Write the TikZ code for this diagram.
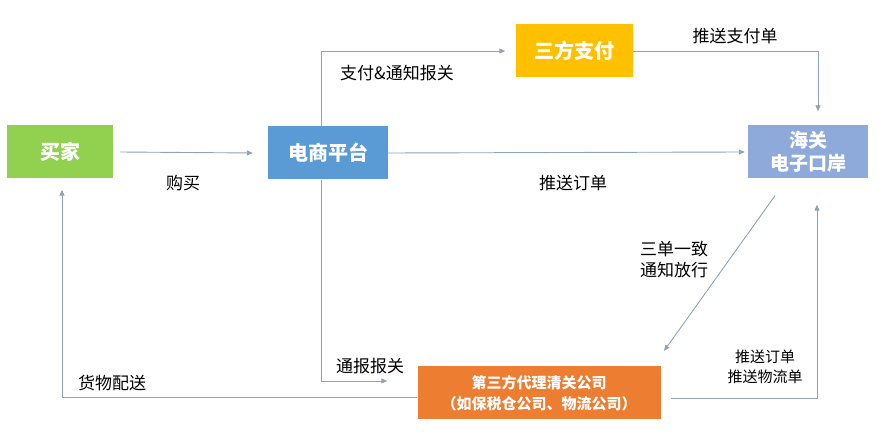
\documentclass[tikz,border=0pt]{standalone}
\usepackage{fontspec}
\newfontfamily\cjk{Noto Sans CJK SC}
\usetikzlibrary{arrows.meta,positioning}
\definecolor{buyergreen}{HTML}{92D050}
\definecolor{platblue}{HTML}{5B9BD5}
\definecolor{payyellow}{HTML}{FFC000}
\definecolor{portblue}{HTML}{8EAADB}
\definecolor{agentorange}{HTML}{ED7D31}
\definecolor{flowgray}{HTML}{8FA3B5}
\tikzset{
    box/.style={inner sep=0pt, text=white, font=\cjk\bfseries\fontsize{20}{23}\selectfont, align=center},
    flow/.style={draw=flowgray, line width=0.9pt, -{Triangle[length=6pt,width=5pt]}},
    lbl/.style={font=\cjk\fontsize{17}{21}\selectfont, align=center}
}
\begin{document}
\begin{tikzpicture}[x=1pt,y=-1pt]
        \useasboundingbox (0,0) rectangle (879,446);

        % Boxes
        \node[box, fill=buyergreen, minimum width=106pt, minimum height=53pt] (buyer) at (60,152) {买家};
        \node[box, fill=platblue, minimum width=120pt, minimum height=53pt] (platform) at (328,153) {电商平台};
        \node[box, fill=payyellow, minimum width=117pt, minimum height=53pt] (pay) at (574,51) {三方支付};
        \node[box, fill=portblue, minimum width=120pt, minimum height=53pt, font=\cjk\bfseries\fontsize{19}{23}\selectfont] (customs) at (808,152) {海关\\电子口岸};
        \node[box, fill=agentorange, minimum width=243pt, minimum height=53pt, font=\cjk\bfseries\fontsize{15}{21}\selectfont] (agent) at (539,393) {第三方代理清关公司\\（如保税仓公司、物流公司）};

        % Bend points
        \coordinate (payturn) at (818,51);
        \coordinate (platup) at (321,51);
        \coordinate (platdown) at (321,381);
        \coordinate (buyturn) at (62,397);
        \coordinate (backturn) at (817,398);

        % Connectors
        \draw[flow] ([xshift=7pt]buyer.east) -- ([xshift=-15pt]platform.west);
        \draw[flow] (platform.east) -- ([xshift=-3pt]customs.west);
        \draw[flow] (platform.north -| platup) -- (platup) -- ([xshift=-10pt]pay.west);
        \draw[flow] (pay.east) -- (payturn) -- ([yshift=14pt]customs.north -| payturn);
        \draw[flow] (platform.south -| platdown) -- (platdown) -- ([xshift=-30pt]agent.west |- platdown);
        \draw[flow] ([yshift=-4pt]agent.west) -- (buyturn) -- ([yshift=-11pt]buyer.south -| buyturn);
        \draw[flow] ([xshift=-33pt,yshift=-17pt]customs.south) -- (664,351);
        \draw[flow] ([xshift=10pt,yshift=-5pt]agent.east) -- (backturn) -- ([yshift=-26pt]customs.south -| backturn);

        % Labels
        \node[lbl] (buylbl) at (183,183) {购买};
        \node[lbl] (orderlbl) at (573,183) {推送订单};
        \node[lbl] (paylbl) at (397,73) {支付\&通知报关};
        \node[lbl] (paybill) at (735,36) {推送支付单};
        \node[lbl] (declare) at (370,366) {通报报关};
        \node[lbl] (deliver) at (112,383) {货物配送};
        \node[lbl] (release) at (674,260) {三单一致\\通知放行};
        \node[lbl, font=\cjk\fontsize{15}{20}\selectfont] (logis) at (765,367) {推送订单\\推送物流单};
\end{tikzpicture}
\end{document}
